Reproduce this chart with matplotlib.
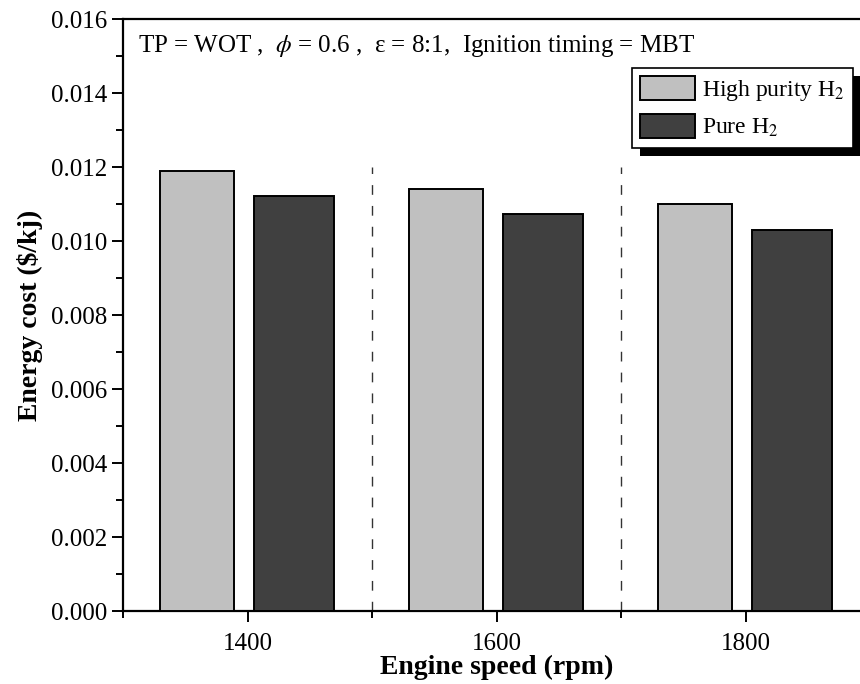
import matplotlib
matplotlib.use('Agg')
import matplotlib.pyplot as plt
from matplotlib.patches import Rectangle
from matplotlib.ticker import MultipleLocator, FixedLocator
import numpy as np

# data
speeds = [1400, 1600, 1800]
high_purity = [0.01189, 0.01141, 0.01100]
pure = [0.01122, 0.01073, 0.01030]
dividers = [1500, 1700]

plt.rcParams['font.family'] = ['Liberation Serif', 'DejaVu Serif']
plt.rcParams['mathtext.fontset'] = 'stix'

fig = plt.figure(figsize=(8.6, 6.84), dpi=100)
ax = fig.add_axes([0.1436, 0.1067, 0.8686, 0.8655])

x = np.array(speeds)
ax.bar(x - 41, high_purity, width=59, color='#c0c0c0', edgecolor='black',
       linewidth=1.4, label='High purity H$_2$', zorder=3)
ax.bar(x + 37, pure, width=64, color='#404040', edgecolor='black',
       linewidth=1.4, label='Pure H$_2$', zorder=3)

ax.vlines(dividers, 0, 0.012, color='#333333', linestyles=[(0, (7, 8))],
          linewidth=1.0, zorder=1)

ax.set_xlim(1300, 1900)
ax.set_ylim(0, 0.016)
ax.yaxis.set_major_locator(MultipleLocator(0.002))
ax.yaxis.set_minor_locator(MultipleLocator(0.001))
ax.set_yticklabels([f'{v:.3f}' for v in ax.get_yticks()])
ax.xaxis.set_major_locator(FixedLocator(speeds))
ax.xaxis.set_minor_locator(FixedLocator([1300, 1500, 1700]))

ax.tick_params(which='major', direction='out', length=8, width=1.4, labelsize=18)
ax.tick_params(which='minor', direction='out', length=5, width=1.4)
ax.tick_params(axis='x', pad=8)
for s in ['left', 'bottom', 'top']:
    ax.spines[s].set_linewidth(1.6)
ax.spines['right'].set_visible(False)

ax.set_xlabel('Engine speed (rpm)', fontsize=20, fontweight='bold', labelpad=0)
ax.set_ylabel(r'Energy cost (\$/kj)', fontsize=20, fontweight='bold', labelpad=6)

ax.text(0.02, 0.955,
        r'TP = WOT ,  $\phi$ = 0.6 ,  ε = 8:1,  Ignition timing = MBT',
        transform=ax.transAxes, fontsize=18, va='center', ha='left')

leg = ax.legend(loc='upper left', bbox_to_anchor=(0.735, 0.9006),
                bbox_transform=fig.transFigure, borderaxespad=0,
                fontsize=17, frameon=True, fancybox=False, edgecolor='black',
                framealpha=1, handlelength=2.3, handleheight=1.2,
                handletextpad=0.3, borderpad=0.35, labelspacing=0.45)
leg.get_frame().set_linewidth(1.2)
leg.set_zorder(10)

# solid black drop shadow behind the legend box
fig.canvas.draw()
bb = leg.get_window_extent()
off = 8
shadow = Rectangle((bb.x0 + off, bb.y0 - off), bb.width, bb.height,
                   transform=None, facecolor='black', edgecolor='none',
                   zorder=9, clip_on=False)
ax.add_artist(shadow)

fig.savefig('out.png', dpi=100)
